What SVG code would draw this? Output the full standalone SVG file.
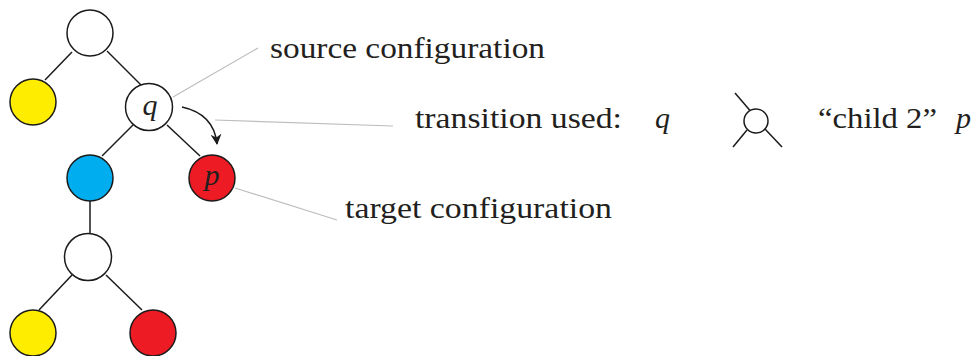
<svg xmlns="http://www.w3.org/2000/svg" width="978" height="356" viewBox="0 0 978 356">
<style>
.n{stroke:#1a1a1a;stroke-width:1.5}
.e{stroke:#1a1a1a;stroke-width:1.5;fill:none}
.g{stroke:#bdbdbd;stroke-width:1.2;fill:none}
.t{font-family:"Liberation Serif","DejaVu Serif",serif;font-size:30px;fill:#231f20}
.i{font-family:"Liberation Serif","DejaVu Serif",serif;font-size:30px;font-style:italic;fill:#231f20}
</style>
<defs>
<marker id="ah" viewBox="0 0 10 10" refX="9" refY="5" markerWidth="11" markerHeight="11" orient="auto" markerUnits="userSpaceOnUse">
<path d="M0,0 L10,5 L0,10 L3,5 Z" fill="#1a1a1a"/>
</marker>
</defs>
<g id="connectors">
<line class="e" x1="72" y1="52" x2="45" y2="80"/>
<line class="e" x1="107" y1="51" x2="142" y2="86"/>
<line class="e" x1="133" y1="125" x2="102" y2="156"/>
<line class="e" x1="167" y1="125" x2="200" y2="156"/>
<line class="e" x1="90" y1="201" x2="90" y2="234"/>
<line class="e" x1="72" y1="275" x2="39" y2="310"/>
<line class="e" x1="106" y1="275" x2="142" y2="310"/>
<path class="e" d="M182,107 Q214,114 217,144" marker-end="url(#ah)"/>
<line class="g" x1="173" y1="97" x2="258" y2="48"/>
<line class="g" x1="215" y1="120" x2="393" y2="126"/>
<line class="g" x1="235" y1="188" x2="337" y2="220"/>
</g>
<g id="root"><circle class="n" cx="90" cy="33" r="23" fill="#fff"/></g>
<g id="yellow1"><circle class="n" cx="33" cy="102" r="23" fill="#FFED00"/></g>
<g id="q"><circle class="n" cx="149" cy="107" r="23.5" fill="#fff"/><text class="i" x="150" y="115" text-anchor="middle">q</text></g>
<g id="blue"><circle class="n" cx="90" cy="178" r="23" fill="#00AEEF"/></g>
<g id="p"><circle class="n" cx="212" cy="178" r="23" fill="#ED1C24"/><text class="i" x="212" y="185" text-anchor="middle">p</text></g>
<g id="white2"><circle class="n" cx="88" cy="257" r="23.5" fill="#fff"/></g>
<g id="yellow2"><circle class="n" cx="33" cy="333" r="23" fill="#FFED00"/></g>
<g id="red2"><circle class="n" cx="153" cy="333" r="23" fill="#ED1C24"/></g>
<g id="labels">
<text class="t" x="270" y="58" textLength="275" lengthAdjust="spacingAndGlyphs">source configuration</text>
<text class="t" x="415" y="128" textLength="207" lengthAdjust="spacingAndGlyphs">transition used:</text>
<text class="i" x="655" y="128">q</text>
<text class="t" x="818" y="128" textLength="119" lengthAdjust="spacingAndGlyphs">“child 2”</text>
<text class="i" x="956" y="128">p</text>
<text class="t" x="345" y="218" textLength="267" lengthAdjust="spacingAndGlyphs">target configuration</text>
</g>
<g id="symbol">
<circle class="n" cx="756" cy="121" r="12" fill="#fff"/>
<line class="e" x1="735" y1="93" x2="750" y2="110.5"/>
<line class="e" x1="765" y1="129" x2="782" y2="147"/>
<line class="e" x1="733" y1="147" x2="747" y2="130"/>
</g>
</svg>
